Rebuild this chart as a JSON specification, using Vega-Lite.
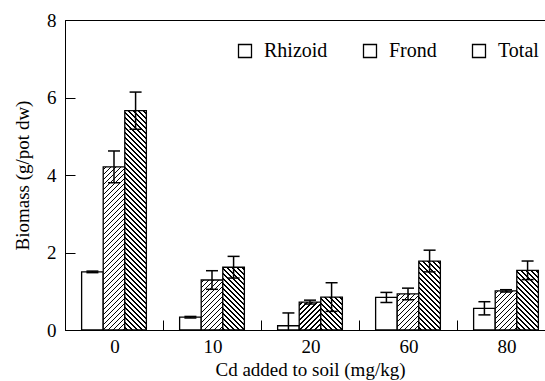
{
  "$schema": "https://vega.github.io/schema/vega-lite/v6.json",
  "width": 490,
  "height": 310,
  "autosize": "none",
  "padding": {"left": 65, "top": 20, "right": 0, "bottom": 51},
  "background": "white",
  "params": [
    {"name": "hs", "value": [
      {"offset":0,"color":"#fff"},
      {"offset":0.008,"color":"#fff"},{"offset":0.008,"color":"#000"},{"offset":0.015,"color":"#000"},{"offset":0.015,"color":"#fff"},
      {"offset":0.028,"color":"#fff"},{"offset":0.028,"color":"#000"},{"offset":0.035,"color":"#000"},{"offset":0.035,"color":"#fff"},
      {"offset":0.048,"color":"#fff"},{"offset":0.048,"color":"#000"},{"offset":0.055,"color":"#000"},{"offset":0.055,"color":"#fff"},
      {"offset":0.068,"color":"#fff"},{"offset":0.068,"color":"#000"},{"offset":0.075,"color":"#000"},{"offset":0.075,"color":"#fff"},
      {"offset":0.088,"color":"#fff"},{"offset":0.088,"color":"#000"},{"offset":0.095,"color":"#000"},{"offset":0.095,"color":"#fff"},
      {"offset":0.108,"color":"#fff"},{"offset":0.108,"color":"#000"},{"offset":0.115,"color":"#000"},{"offset":0.115,"color":"#fff"},
      {"offset":0.128,"color":"#fff"},{"offset":0.128,"color":"#000"},{"offset":0.135,"color":"#000"},{"offset":0.135,"color":"#fff"},
      {"offset":0.148,"color":"#fff"},{"offset":0.148,"color":"#000"},{"offset":0.155,"color":"#000"},{"offset":0.155,"color":"#fff"},
      {"offset":0.168,"color":"#fff"},{"offset":0.168,"color":"#000"},{"offset":0.175,"color":"#000"},{"offset":0.175,"color":"#fff"},
      {"offset":0.188,"color":"#fff"},{"offset":0.188,"color":"#000"},{"offset":0.195,"color":"#000"},{"offset":0.195,"color":"#fff"},
      {"offset":0.208,"color":"#fff"},{"offset":0.208,"color":"#000"},{"offset":0.215,"color":"#000"},{"offset":0.215,"color":"#fff"},
      {"offset":0.228,"color":"#fff"},{"offset":0.228,"color":"#000"},{"offset":0.235,"color":"#000"},{"offset":0.235,"color":"#fff"},
      {"offset":0.248,"color":"#fff"},{"offset":0.248,"color":"#000"},{"offset":0.255,"color":"#000"},{"offset":0.255,"color":"#fff"},
      {"offset":0.268,"color":"#fff"},{"offset":0.268,"color":"#000"},{"offset":0.275,"color":"#000"},{"offset":0.275,"color":"#fff"},
      {"offset":0.288,"color":"#fff"},{"offset":0.288,"color":"#000"},{"offset":0.295,"color":"#000"},{"offset":0.295,"color":"#fff"},
      {"offset":0.308,"color":"#fff"},{"offset":0.308,"color":"#000"},{"offset":0.315,"color":"#000"},{"offset":0.315,"color":"#fff"},
      {"offset":0.328,"color":"#fff"},{"offset":0.328,"color":"#000"},{"offset":0.335,"color":"#000"},{"offset":0.335,"color":"#fff"},
      {"offset":0.348,"color":"#fff"},{"offset":0.348,"color":"#000"},{"offset":0.355,"color":"#000"},{"offset":0.355,"color":"#fff"},
      {"offset":0.368,"color":"#fff"},{"offset":0.368,"color":"#000"},{"offset":0.375,"color":"#000"},{"offset":0.375,"color":"#fff"},
      {"offset":0.388,"color":"#fff"},{"offset":0.388,"color":"#000"},{"offset":0.395,"color":"#000"},{"offset":0.395,"color":"#fff"},
      {"offset":0.408,"color":"#fff"},{"offset":0.408,"color":"#000"},{"offset":0.415,"color":"#000"},{"offset":0.415,"color":"#fff"},
      {"offset":0.428,"color":"#fff"},{"offset":0.428,"color":"#000"},{"offset":0.435,"color":"#000"},{"offset":0.435,"color":"#fff"},
      {"offset":0.448,"color":"#fff"},{"offset":0.448,"color":"#000"},{"offset":0.455,"color":"#000"},{"offset":0.455,"color":"#fff"},
      {"offset":0.468,"color":"#fff"},{"offset":0.468,"color":"#000"},{"offset":0.475,"color":"#000"},{"offset":0.475,"color":"#fff"},
      {"offset":0.488,"color":"#fff"},{"offset":0.488,"color":"#000"},{"offset":0.495,"color":"#000"},{"offset":0.495,"color":"#fff"},
      {"offset":0.508,"color":"#fff"},{"offset":0.508,"color":"#000"},{"offset":0.515,"color":"#000"},{"offset":0.515,"color":"#fff"},
      {"offset":0.528,"color":"#fff"},{"offset":0.528,"color":"#000"},{"offset":0.535,"color":"#000"},{"offset":0.535,"color":"#fff"},
      {"offset":0.548,"color":"#fff"},{"offset":0.548,"color":"#000"},{"offset":0.555,"color":"#000"},{"offset":0.555,"color":"#fff"},
      {"offset":0.568,"color":"#fff"},{"offset":0.568,"color":"#000"},{"offset":0.575,"color":"#000"},{"offset":0.575,"color":"#fff"},
      {"offset":0.588,"color":"#fff"},{"offset":0.588,"color":"#000"},{"offset":0.595,"color":"#000"},{"offset":0.595,"color":"#fff"},
      {"offset":0.608,"color":"#fff"},{"offset":0.608,"color":"#000"},{"offset":0.615,"color":"#000"},{"offset":0.615,"color":"#fff"},
      {"offset":0.628,"color":"#fff"},{"offset":0.628,"color":"#000"},{"offset":0.635,"color":"#000"},{"offset":0.635,"color":"#fff"},
      {"offset":0.648,"color":"#fff"},{"offset":0.648,"color":"#000"},{"offset":0.655,"color":"#000"},{"offset":0.655,"color":"#fff"},
      {"offset":0.668,"color":"#fff"},{"offset":0.668,"color":"#000"},{"offset":0.675,"color":"#000"},{"offset":0.675,"color":"#fff"},
      {"offset":0.688,"color":"#fff"},{"offset":0.688,"color":"#000"},{"offset":0.695,"color":"#000"},{"offset":0.695,"color":"#fff"},
      {"offset":0.708,"color":"#fff"},{"offset":0.708,"color":"#000"},{"offset":0.715,"color":"#000"},{"offset":0.715,"color":"#fff"},
      {"offset":0.728,"color":"#fff"},{"offset":0.728,"color":"#000"},{"offset":0.735,"color":"#000"},{"offset":0.735,"color":"#fff"},
      {"offset":0.748,"color":"#fff"},{"offset":0.748,"color":"#000"},{"offset":0.755,"color":"#000"},{"offset":0.755,"color":"#fff"},
      {"offset":0.768,"color":"#fff"},{"offset":0.768,"color":"#000"},{"offset":0.775,"color":"#000"},{"offset":0.775,"color":"#fff"},
      {"offset":0.788,"color":"#fff"},{"offset":0.788,"color":"#000"},{"offset":0.795,"color":"#000"},{"offset":0.795,"color":"#fff"},
      {"offset":0.808,"color":"#fff"},{"offset":0.808,"color":"#000"},{"offset":0.815,"color":"#000"},{"offset":0.815,"color":"#fff"},
      {"offset":0.828,"color":"#fff"},{"offset":0.828,"color":"#000"},{"offset":0.835,"color":"#000"},{"offset":0.835,"color":"#fff"},
      {"offset":0.848,"color":"#fff"},{"offset":0.848,"color":"#000"},{"offset":0.855,"color":"#000"},{"offset":0.855,"color":"#fff"},
      {"offset":0.868,"color":"#fff"},{"offset":0.868,"color":"#000"},{"offset":0.875,"color":"#000"},{"offset":0.875,"color":"#fff"},
      {"offset":0.888,"color":"#fff"},{"offset":0.888,"color":"#000"},{"offset":0.895,"color":"#000"},{"offset":0.895,"color":"#fff"},
      {"offset":0.908,"color":"#fff"},{"offset":0.908,"color":"#000"},{"offset":0.915,"color":"#000"},{"offset":0.915,"color":"#fff"},
      {"offset":0.928,"color":"#fff"},{"offset":0.928,"color":"#000"},{"offset":0.935,"color":"#000"},{"offset":0.935,"color":"#fff"},
      {"offset":0.948,"color":"#fff"},{"offset":0.948,"color":"#000"},{"offset":0.955,"color":"#000"},{"offset":0.955,"color":"#fff"},
      {"offset":0.968,"color":"#fff"},{"offset":0.968,"color":"#000"},{"offset":0.975,"color":"#000"},{"offset":0.975,"color":"#fff"},
      {"offset":0.988,"color":"#fff"},{"offset":0.988,"color":"#000"},{"offset":0.995,"color":"#000"},{"offset":0.995,"color":"#fff"},
      {"offset":1,"color":"#fff"}
    ]}
  ],
  "config": {
    "view": {"stroke": "black", "strokeWidth": 1},
    "font": "Liberation Serif",
    "axis": {
      "labelFont": "Liberation Serif",
      "titleFont": "Liberation Serif",
      "labelFontSize": 19,
      "titleFontSize": 19,
      "titleFontWeight": "normal",
      "labelColor": "black",
      "titleColor": "black",
      "domainColor": "black",
      "tickColor": "black",
      "grid": false
    }
  },
  "data": {
    "values": [
      {"dose": "0", "part": "Rhizoid", "value": 1.50, "err": 0.02},
      {"dose": "0", "part": "Frond", "value": 4.21, "err": 0.41},
      {"dose": "0", "part": "Total", "value": 5.66, "err": 0.48},
      {"dose": "10", "part": "Rhizoid", "value": 0.33, "err": 0.02},
      {"dose": "10", "part": "Frond", "value": 1.29, "err": 0.24},
      {"dose": "10", "part": "Total", "value": 1.62, "err": 0.28},
      {"dose": "20", "part": "Rhizoid", "value": 0.11, "err": 0.33},
      {"dose": "20", "part": "Frond", "value": 0.72, "err": 0.05},
      {"dose": "20", "part": "Total", "value": 0.85, "err": 0.37},
      {"dose": "60", "part": "Rhizoid", "value": 0.84, "err": 0.13},
      {"dose": "60", "part": "Frond", "value": 0.93, "err": 0.15},
      {"dose": "60", "part": "Total", "value": 1.78, "err": 0.28},
      {"dose": "80", "part": "Rhizoid", "value": 0.56, "err": 0.17},
      {"dose": "80", "part": "Frond", "value": 1.01, "err": 0.03},
      {"dose": "80", "part": "Total", "value": 1.54, "err": 0.24}
    ]
  },
  "transform": [
    {"calculate": "datum.value - datum.err", "as": "lo"},
    {"calculate": "datum.value + datum.err", "as": "hi"}
  ],
  "encoding": {
    "x": {
      "field": "dose",
      "type": "nominal",
      "sort": ["0", "10", "20", "60", "80"],
      "scale": {"paddingInner": 0, "paddingOuter": 0},
      "axis": {
        "title": "Cd added to soil (mg/kg)",
        "labelAngle": 0,
        "bandPosition": 0,
        "labelOffset": 1,
        "tickSize": -10,
        "labelPadding": 17,
        "titlePadding": 4
      }
    },
    "xOffset": {
      "field": "part",
      "type": "nominal",
      "sort": ["Rhizoid", "Frond", "Total"],
      "scale": {"paddingInner": 0, "paddingOuter": 0.77}
    }
  },
  "layer": [
    {
      "mark": {
        "type": "bar",
        "strokeWidth": 1.3,
        "opacity": 1,
        "fill": {"expr": "datum.part === 'Rhizoid' ? 'white' : datum.part === 'Frond' ? {gradient: 'linear', x1: 0, y1: 0, x2: 250 * bandwidth('xOffset') / (pow(bandwidth('xOffset'), 2) + pow(max(1, scale('y', 0) - scale('y', datum.value)), 2)), y2: 250 * max(1, scale('y', 0) - scale('y', datum.value)) / (pow(bandwidth('xOffset'), 2) + pow(max(1, scale('y', 0) - scale('y', datum.value)), 2)), stops: hs} : {gradient: 'linear', x1: 1, y1: 0, x2: 1 - 250 * bandwidth('xOffset') / (pow(bandwidth('xOffset'), 2) + pow(max(1, scale('y', 0) - scale('y', datum.value)), 2)), y2: 250 * max(1, scale('y', 0) - scale('y', datum.value)) / (pow(bandwidth('xOffset'), 2) + pow(max(1, scale('y', 0) - scale('y', datum.value)), 2)), stops: hs}"}
      },
      "encoding": {
        "y": {
          "field": "value",
          "type": "quantitative",
          "scale": {"domain": [0, 8]},
          "axis": {
            "title": "Biomass (g/pot dw)",
            "values": [0, 2, 4, 6, 8],
            "tickSize": -10,
            "labelPadding": 19,
            "titlePadding": 14
          }
        },
        "stroke": {
          "field": "part",
          "type": "nominal",
          "sort": ["Rhizoid", "Frond", "Total"],
          "scale": {"domain": ["Rhizoid", "Frond", "Total"], "range": ["black", "black", "black"]},
          "legend": {
            "orient": "none",
            "legendX": 170,
            "legendY": 21,
            "direction": "horizontal",
            "title": null,
            "padding": 0,
            "symbolType": "square",
            "symbolSize": 169,
            "symbolStrokeWidth": 1.3,
            "symbolOpacity": 1,
            "labelFont": "Liberation Serif",
            "labelFontSize": 20,
            "labelColor": "black",
            "labelOffset": 9,
            "columnPadding": 32,
            "encode": {
              "symbols": {
                "fill": {"value": {"expr": "datum.value === 'Frond' ? {gradient: 'linear', x1: 0, y1: 0, x2: 9.615, y2: 9.615, stops: hs} : datum.value === 'Total' ? {gradient: 'linear', x1: 1, y1: 0, x2: -8.615, y2: 9.615, stops: hs} : 'white'"}},
                "opacity": {"value": 1},
                "fillOpacity": {"value": 1},
                "strokeOpacity": {"value": 1}
              }
            }
          }
        }
      }
    },
    {
      "mark": {"type": "rule", "color": "black", "strokeWidth": 1.5, "clip": true},
      "encoding": {
        "y": {"field": "lo", "type": "quantitative", "scale": {"domain": [0, 8]}, "title": "Biomass (g/pot dw)"},
        "y2": {"field": "hi"}
      }
    },
    {
      "mark": {"type": "tick", "color": "black", "size": 12, "thickness": 1.5, "opacity": 1, "clip": true},
      "encoding": {
        "y": {"field": "hi", "type": "quantitative", "scale": {"domain": [0, 8]}, "title": "Biomass (g/pot dw)"}
      }
    },
    {
      "mark": {"type": "tick", "color": "black", "size": 12, "thickness": 1.5, "opacity": 1, "clip": true},
      "encoding": {
        "y": {"field": "lo", "type": "quantitative", "scale": {"domain": [0, 8]}, "title": "Biomass (g/pot dw)"}
      }
    }
  ]
}
